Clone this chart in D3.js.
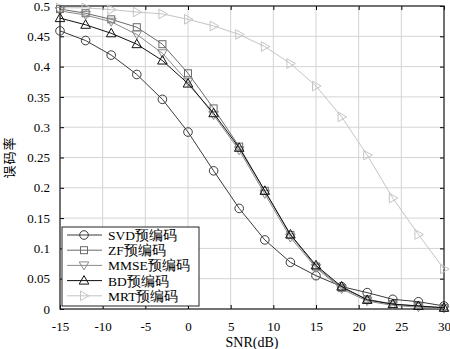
<!DOCTYPE html>
<html><head><meta charset="utf-8">
<script src="https://cdn.jsdelivr.net/npm/d3@7"></script>
<style>body{margin:0;background:#fff}svg{display:block}</style>
</head><body>
<script>
const snr = [-15,-12,-9,-6,-3,0,3,6,9,12,15,18,21,24,27,30];
const svd  = [0.459,0.443,0.419,0.387,0.346,0.292,0.228,0.166,0.114,0.077,0.055,0.037,0.027,0.016,0.012,0.005];
const zf   = [0.495,0.488,0.478,0.465,0.437,0.389,0.331,0.268,0.195,0.122,0.070,0.035,0.016,0.008,0.005,0.002];
const mmse = [0.492,0.485,0.474,0.453,0.422,0.375,0.320,0.262,0.190,0.118,0.068,0.033,0.013,0.006,0.003,0.001];
const bd   = [0.480,0.469,0.455,0.437,0.410,0.372,0.323,0.266,0.195,0.123,0.072,0.037,0.015,0.008,0.005,0.002];
const mrt  = [0.497,0.497,0.494,0.490,0.487,0.478,0.467,0.453,0.433,0.405,0.368,0.317,0.254,0.183,0.123,0.066];
const seriesNames = ["SVD预编码","ZF预编码","MMSE预编码","BD预编码","MRT预编码"];
const xTicks = [-15,-10,-5,0,5,10,15,20,25,30];
const yTicks = [0,0.05,0.1,0.15,0.2,0.25,0.3,0.35,0.4,0.45,0.5];
const yLabel = "误码率";
const xLabel = "SNR(dB)";

const W=450,H=349;
const m={l:60,r:6,t:6,b:40};
const svg=d3.select("body").append("svg").attr("width",W).attr("height",H);
const x=d3.scaleLinear().domain([-15,30]).range([m.l,W-m.r]);
const y=d3.scaleLinear().domain([0,0.5]).range([H-m.b,m.t]);
const font='"Liberation Serif","Times New Roman",serif';

// grid
const g=svg.append("g");
g.selectAll(".gx").data(xTicks).enter().append("line")
 .attr("x1",d=>x(d)).attr("x2",d=>x(d)).attr("y1",y(0)).attr("y2",y(0.5))
 .attr("stroke","#d4d4d4").attr("stroke-width",1);
g.selectAll(".gy").data(yTicks).enter().append("line")
 .attr("y1",d=>y(d)).attr("y2",d=>y(d)).attr("x1",x(-15)).attr("x2",x(30))
 .attr("stroke","#d4d4d4").attr("stroke-width",1);

// axes
const fmt=d=>String(d);
const ax=(sel)=>sel.selectAll("text").attr("font-family",font).attr("font-size","13px").attr("fill","#000");
svg.append("g").attr("transform",`translate(0,${y(0)})`)
 .call(d3.axisBottom(x).tickValues(xTicks).tickFormat(fmt).tickSize(-4).tickPadding(14))
 .call(s=>s.select(".domain").remove()).call(ax)
 .call(s=>s.selectAll("text").attr("y",22).attr("dy","0"));
svg.append("g").attr("transform",`translate(0,${y(0.5)})`)
 .call(d3.axisTop(x).tickValues(xTicks).tickFormat("").tickSize(-4))
 .call(s=>s.select(".domain").remove());
svg.append("g").attr("transform",`translate(${x(-15)},0)`)
 .call(d3.axisLeft(y).tickValues(yTicks).tickFormat(fmt).tickSize(-4).tickPadding(10))
 .call(s=>s.select(".domain").remove()).call(ax);
svg.append("g").attr("transform",`translate(${x(30)},0)`)
 .call(d3.axisRight(y).tickValues(yTicks).tickFormat("").tickSize(-4))
 .call(s=>s.select(".domain").remove());
svg.append("rect").attr("x",x(-15)).attr("y",y(0.5)).attr("width",x(30)-x(-15)).attr("height",y(0)-y(0.5))
 .attr("fill","none").attr("stroke","#222").attr("stroke-width",1.2);

// series
const series=[
 {name:seriesNames[0],vals:svd,color:"#3a3a3a",sym:"circle"},
 {name:seriesNames[1],vals:zf,color:"#6a6a6a",sym:"square"},
 {name:seriesNames[2],vals:mmse,color:"#8a8a8a",sym:"down"},
 {name:seriesNames[3],vals:bd,color:"#111",sym:"up"},
 {name:seriesNames[4],vals:mrt,color:"#c4c4c4",sym:"right"},
];
function marker(sel,sym,color,cx,cy){
  if(sym==="circle") sel.append("circle").attr("cx",cx).attr("cy",cy).attr("r",4.3);
  else if(sym==="square") sel.append("rect").attr("x",cx-3.5).attr("y",cy-3.5).attr("width",7).attr("height",7);
  else {
    let p;
    if(sym==="up") p=[[0,-5],[4.8,3.5],[-4.8,3.5]];
    else if(sym==="down") p=[[0,4.5],[4.8,-3.5],[-4.8,-3.5]];
    else p=[[5,0],[-3.5,-4.8],[-3.5,4.8]];
    sel.append("path").attr("d","M"+p.map(q=>(cx+q[0])+","+(cy+q[1])).join("L")+"Z");
  }
  sel.selectAll("*").attr("fill","none").attr("stroke",color).attr("stroke-width",1);
}
const line=d3.line().x((d,i)=>x(snr[i])).y(d=>y(d));
const order=[4,0,1,2,3];
order.forEach(k=>{
  const s=series[k];
  svg.append("path").datum(s.vals).attr("d",line).attr("fill","none").attr("stroke",s.color).attr("stroke-width",1);
  s.vals.forEach((v,i)=>{ marker(svg.append("g"),s.sym,s.color,x(snr[i]),y(v)); });
});

// legend
const lg=svg.append("g");
lg.append("rect").attr("x",62).attr("y",227).attr("width",137).attr("height",79)
 .attr("fill","#fff").attr("stroke","#222").attr("stroke-width",1);
series.forEach((s,i)=>{
  const yy=235+i*15.2;
  lg.append("line").attr("x1",67).attr("x2",102).attr("y1",yy).attr("y2",yy).attr("stroke",s.color).attr("stroke-width",1);
  marker(lg.append("g"),s.sym,s.color,84,yy);
  lg.append("text").attr("x",108).attr("y",yy+5).attr("font-family",font).attr("font-size","13.5px").attr("fill","#000").text(s.name);
});

svg.append("text").attr("transform",`translate(14,${(y(0)+y(0.5))/2}) rotate(-90)`)
 .attr("text-anchor","middle").attr("font-family",'"Noto Sans CJK SC",sans-serif').attr("font-size","13px")
 .attr("letter-spacing","1px").text(yLabel);
svg.append("text").attr("x",(x(-15)+x(30))/2).attr("y",347).attr("text-anchor","middle")
 .attr("font-family",font).attr("font-size","14px").text(xLabel);
</script>
</body></html>
